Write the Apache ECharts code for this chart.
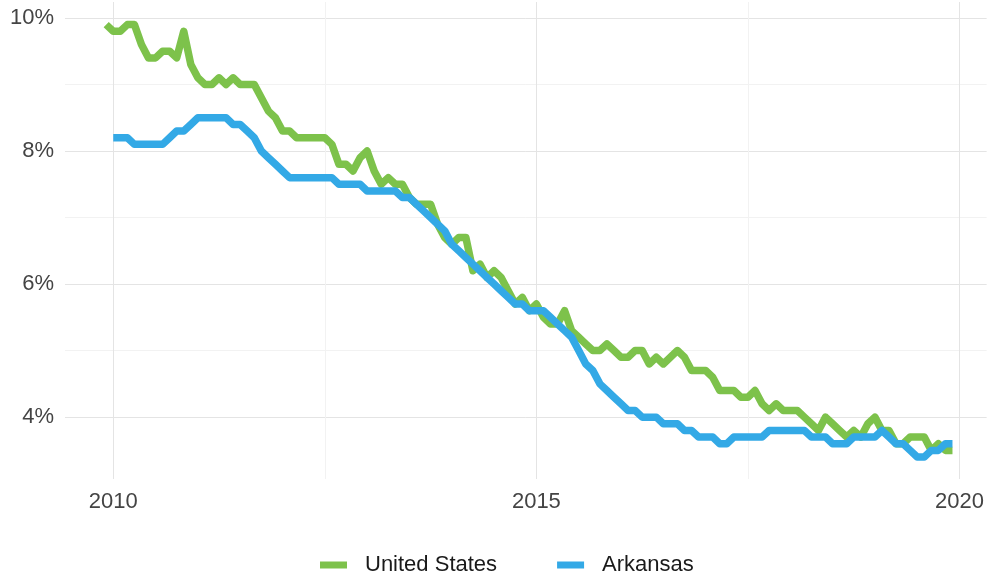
<!DOCTYPE html>
<html>
<head>
<meta charset="utf-8">
<script src="https://cdn.jsdelivr.net/npm/echarts@6/dist/echarts.min.js"></script>
<style>
html,body{margin:0;padding:0;background:#fff;}
#chart{width:987px;height:573px;}
</style>
</head>
<body>
<div id="chart"></div>
<script>
// United States, monthly from 2009-12 to 2019-12
const usStart = [2009, 12];
const usValues = [
  9.9,
  9.8, 9.8, 9.9, 9.9, 9.6, 9.4, 9.4, 9.5, 9.5, 9.4, 9.8, 9.3,
  9.1, 9.0, 9.0, 9.1, 9.0, 9.1, 9.0, 9.0, 9.0, 8.8, 8.6, 8.5,
  8.3, 8.3, 8.2, 8.2, 8.2, 8.2, 8.2, 8.1, 7.8, 7.8, 7.7, 7.9,
  8.0, 7.7, 7.5, 7.6, 7.5, 7.5, 7.3, 7.2, 7.2, 7.2, 6.9, 6.7,
  6.6, 6.7, 6.7, 6.2, 6.3, 6.1, 6.2, 6.1, 5.9, 5.7, 5.8, 5.6,
  5.7, 5.5, 5.4, 5.4, 5.6, 5.3, 5.2, 5.1, 5.0, 5.0, 5.1, 5.0,
  4.9, 4.9, 5.0, 5.0, 4.8, 4.9, 4.8, 4.9, 5.0, 4.9, 4.7, 4.7,
  4.7, 4.6, 4.4, 4.4, 4.4, 4.3, 4.3, 4.4, 4.2, 4.1, 4.2, 4.1,
  4.1, 4.1, 4.0, 3.9, 3.8, 4.0, 3.9, 3.8, 3.7, 3.8, 3.7, 3.9,
  4.0, 3.8, 3.8, 3.6, 3.6, 3.7, 3.7, 3.7, 3.5, 3.6, 3.5, 3.5
];
// Arkansas, monthly from 2010-01 to 2019-12
const arStart = [2010, 1];
const arValues = [
  8.2, 8.2, 8.2, 8.1, 8.1, 8.1, 8.1, 8.1, 8.2, 8.3, 8.3, 8.4,
  8.5, 8.5, 8.5, 8.5, 8.5, 8.4, 8.4, 8.3, 8.2, 8.0, 7.9, 7.8,
  7.7, 7.6, 7.6, 7.6, 7.6, 7.6, 7.6, 7.6, 7.5, 7.5, 7.5, 7.5,
  7.4, 7.4, 7.4, 7.4, 7.4, 7.3, 7.3, 7.2, 7.1, 7.0, 6.9, 6.8,
  6.6, 6.5, 6.4, 6.3, 6.2, 6.1, 6.0, 5.9, 5.8, 5.7, 5.7, 5.6,
  5.6, 5.6, 5.5, 5.4, 5.3, 5.2, 5.0, 4.8, 4.7, 4.5, 4.4, 4.3,
  4.2, 4.1, 4.1, 4.0, 4.0, 4.0, 3.9, 3.9, 3.9, 3.8, 3.8, 3.7,
  3.7, 3.7, 3.6, 3.6, 3.7, 3.7, 3.7, 3.7, 3.7, 3.8, 3.8, 3.8,
  3.8, 3.8, 3.8, 3.7, 3.7, 3.7, 3.6, 3.6, 3.6, 3.7, 3.7, 3.7,
  3.7, 3.8, 3.7, 3.6, 3.6, 3.5, 3.4, 3.4, 3.5, 3.5, 3.6, 3.6
];
const seriesNames = ['United States', 'Arkansas'];
const xGridValues = [2010, 2012.5, 2015, 2017.5, 2020];
const xLabelValues = [2010, 2015, 2020];
const yGridValues = [4, 5, 6, 7, 8, 9, 10];
const yLabelValues = [4, 6, 8, 10];

function toPoints(start, values) {
  return values.map((v, i) => {
    const m = start[1] - 1 + i;
    return [start[0] + m / 12, v];
  });
}

const major = '#e4e4e4', minor = '#f2f2f2';
const font = "'Liberation Sans', Arial, sans-serif";

const chart = echarts.init(document.getElementById('chart'), null, {renderer: 'canvas'});
chart.setOption({
  animation: false,
  backgroundColor: '#ffffff',
  grid: {left: 65, right: 0, top: 2, bottom: 94, containLabel: false},
  xAxis: {
    type: 'value',
    min: 2009.43, max: 2020.32,
    axisLine: {show: false},
    axisTick: {show: false, customValues: xGridValues},
    axisLabel: {
      customValues: xLabelValues,
      margin: 12,
      color: '#444444', fontSize: 22, fontFamily: font,
      formatter: v => String(Math.round(v))
    },
    splitLine: {show: true, lineStyle: {color: [major, minor, major, minor, major], width: 1}}
  },
  yAxis: {
    type: 'value',
    min: 3.07, max: 10.24,
    axisLine: {show: false},
    axisTick: {show: false, customValues: yGridValues},
    axisLabel: {
      customValues: yLabelValues,
      margin: 11,
      color: '#444444', fontSize: 22, fontFamily: font,
      formatter: v => Math.round(v) + '%'
    },
    splitLine: {show: true, lineStyle: {color: [major, minor, major, minor, major, minor, major], width: 1}}
  },
  legend: {
    data: seriesNames,
    left: 315, top: 549,
    icon: 'rect', itemWidth: 27, itemHeight: 7, itemGap: 60,
    textStyle: {fontSize: 22, fontFamily: font, color: '#1a1a1a', padding: [0, 0, 0, 13]}
  },
  series: [
    {
      name: seriesNames[0], type: 'line', data: toPoints(usStart, usValues),
      showSymbol: false, symbol: 'none', color: '#7dc24b',
      lineStyle: {width: 7.5, color: '#7dc24b', join: 'round', cap: 'butt'}
    },
    {
      name: seriesNames[1], type: 'line', data: toPoints(arStart, arValues),
      showSymbol: false, symbol: 'none', color: '#33a9e6',
      lineStyle: {width: 7.5, color: '#33a9e6', join: 'round', cap: 'butt'}
    }
  ]
});
</script>
</body>
</html>
